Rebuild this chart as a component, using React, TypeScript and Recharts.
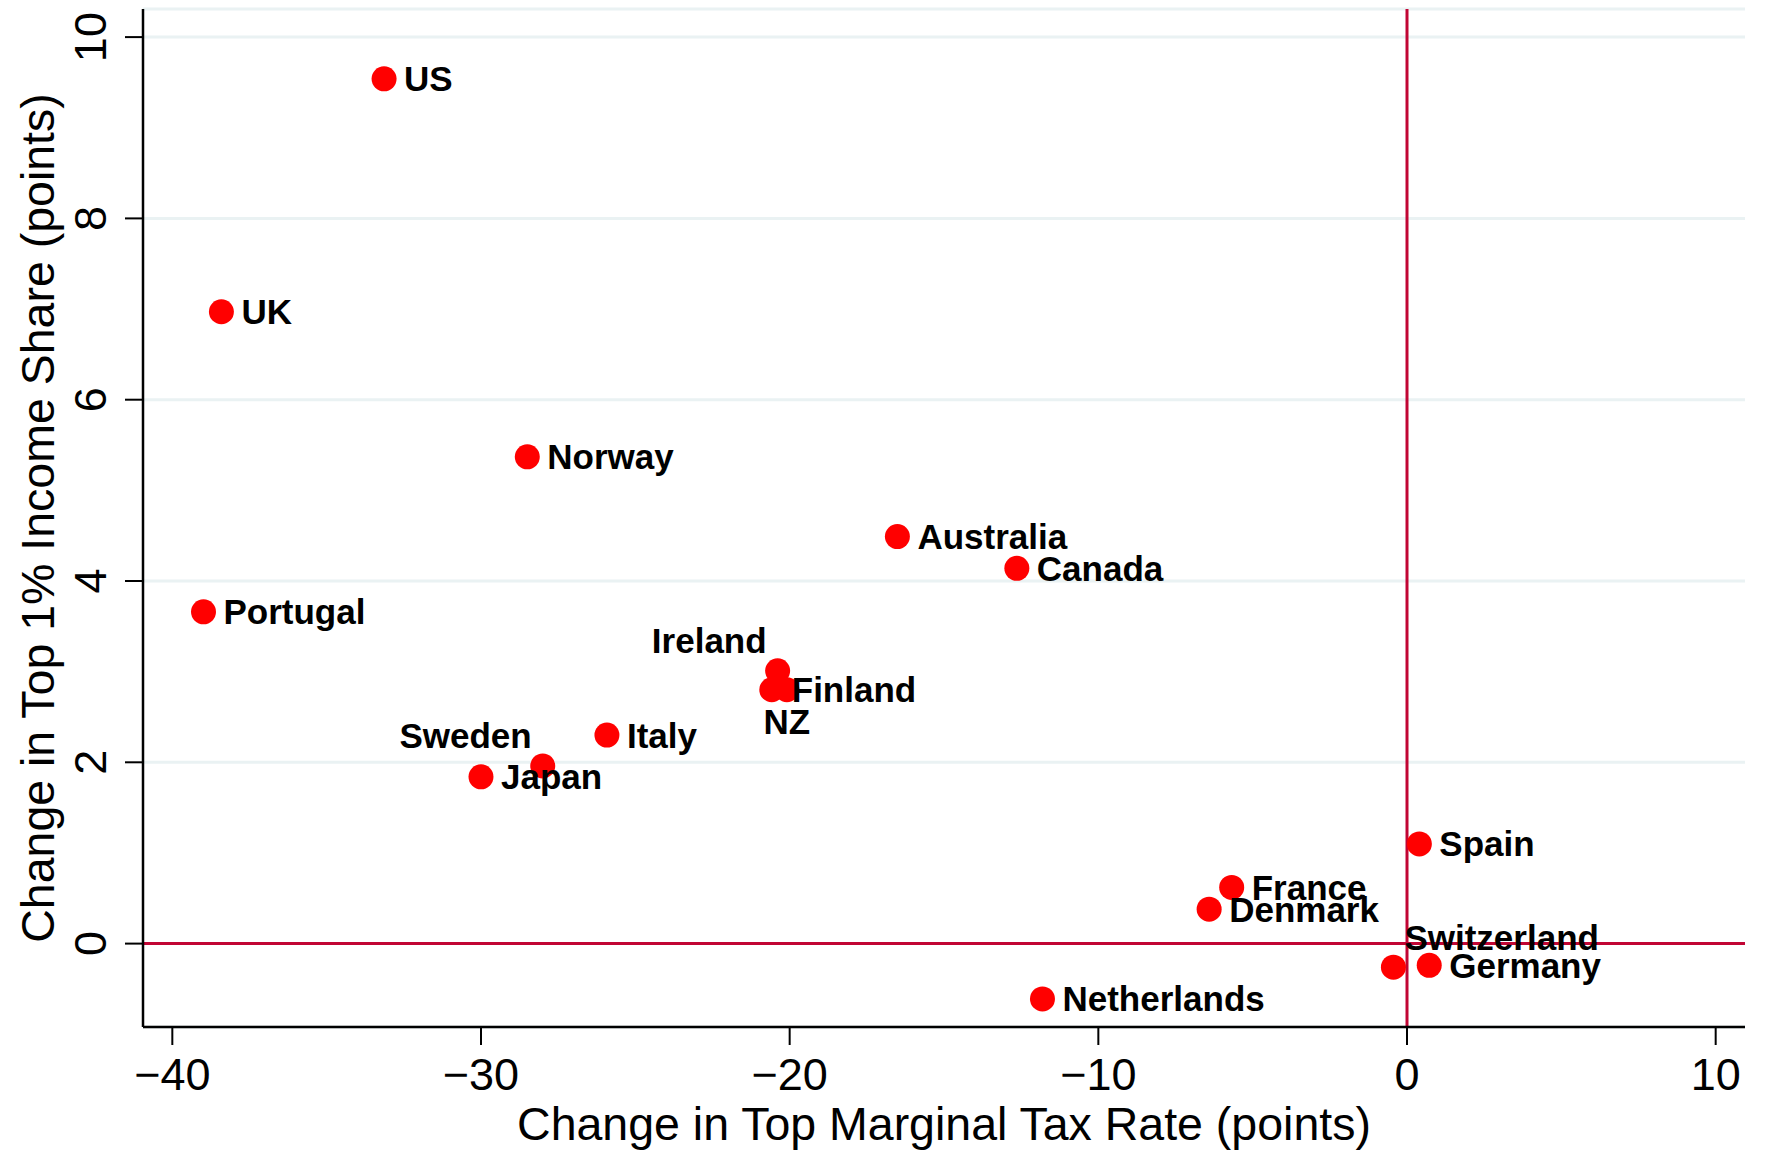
import React from 'react'
import {
  ScatterChart,
  Scatter,
  XAxis,
  YAxis,
  CartesianGrid,
  ReferenceLine,
  Label,
} from 'recharts'

const countries = [
  'US', 'UK', 'Norway', 'Australia', 'Canada', 'Portugal', 'Ireland', 'NZ', 'Finland',
  'Italy', 'Sweden', 'Japan', 'Spain', 'France', 'Denmark', 'Switzerland', 'Germany', 'Netherlands',
]
const taxChange = [
  -33.14, -38.41, -28.5, -16.51, -12.64, -38.99, -20.39, -20.09, -20.58,
  -25.92, -28.0, -30.0, 0.4, -5.68, -6.41, -0.44, 0.72, -11.81,
]
const shareChange = [
  9.54, 6.97, 5.37, 4.49, 4.14, 3.66, 3.01, 2.8, 2.8,
  2.3, 1.96, 1.84, 1.1, 0.62, 0.38, -0.26, -0.24, -0.61,
]
const xTicks = [-40, -30, -20, -10, 0, 10]
const yTicks = [0, 2, 4, 6, 8, 10]

// where the name sits around its marker, stata clock style (3 = right)
const labelPos: Record<string, number> = { Ireland: 11, Sweden: 11, NZ: 6, Switzerland: 1 }

const FONT = '"Liberation Sans", Arial, Helvetica, sans-serif'
const RED = '#ff0000'
const REFLINE = '#c10534'
const GRID = '#eaf2f3'

const data = countries.map((name, i) => ({ name, x: taxChange[i], y: shareChange[i] }))

const fmt = (v: number) => String(v).replace('-', '\u2212')

const Dot = (props: any) => <circle cx={props.cx} cy={props.cy} r={12.5} fill={RED} />

const Name = (props: any) => {
  const { cx, cy, payload } = props
  const pos = labelPos[payload.name] ?? 3
  let x = cx + 20
  let y = cy + 12.5
  let anchor: 'start' | 'middle' | 'end' = 'start'
  if (pos === 11) {
    x = cx - 11
    y = cy - 17.5
    anchor = 'end'
  } else if (pos === 1) {
    x = cx + 11
    y = cy - 17.5
  } else if (pos === 6) {
    x = cx
    y = cy + 44
    anchor = 'middle'
  }
  return (
    <text x={x} y={y} textAnchor={anchor} fontSize={35} fontWeight="bold" fontFamily={FONT} fill="#000">
      {payload.name}
    </text>
  )
}

const YTick = (props: any) => {
  const { x, y, payload } = props
  return (
    <text
      x={x}
      y={y}
      transform={`rotate(-90, ${x}, ${y})`}
      textAnchor="middle"
      fontSize={45}
      fontFamily={FONT}
      fill="#000"
    >
      {fmt(payload.value)}
    </text>
  )
}

const YTitle = (props: any) => {
  const vb = props.viewBox || { x: 0, y: 9, width: 143, height: 1018 }
  const x = vb.x + 38
  const y = vb.y + vb.height / 2
  return (
    <text
      x={x}
      y={y}
      transform={`rotate(-90, ${x}, ${y})`}
      textAnchor="middle"
      dominantBaseline="central"
      fontSize={46.5}
      fontFamily={FONT}
      fill="#000"
    >
      Change in Top 1% Income Share (points)
    </text>
  )
}

const XTitle = (props: any) => {
  const vb = props.viewBox || { x: 143, y: 1027, width: 1602, height: 126 }
  return (
    <text
      x={vb.x + vb.width / 2}
      y={vb.y + 113}
      textAnchor="middle"
      fontSize={46.5}
      fontFamily={FONT}
      fill="#000"
    >
      Change in Top Marginal Tax Rate (points)
    </text>
  )
}

export default function App() {
  return (
    <div style={{ position: 'absolute', left: 0, top: 0, background: '#fff' }}>
      <ScatterChart width={1765} height={1153} margin={{ top: 9, right: 20, bottom: 0, left: 0 }}>
        <CartesianGrid horizontal vertical={false} stroke={GRID} strokeWidth={3} />
        <XAxis
          type="number"
          dataKey="x"
          domain={[-40.95, 10.95]}
          ticks={xTicks}
          allowDataOverflow
          interval={0}
          height={126}
          tickSize={18}
          tickMargin={13}
          axisLine={{ stroke: '#000', strokeWidth: 2.5 }}
          tickLine={{ stroke: '#000', strokeWidth: 2 }}
          tick={{ fill: '#000', fontSize: 45, fontFamily: FONT }}
          tickFormatter={fmt}
        >
          <Label content={XTitle} />
        </XAxis>
        <YAxis
          type="number"
          dataKey="y"
          domain={[-0.92, 10.31]}
          ticks={yTicks}
          allowDataOverflow
          interval={0}
          width={143}
          tickSize={18}
          tickMargin={19}
          axisLine={{ stroke: '#000', strokeWidth: 2.5 }}
          tickLine={{ stroke: '#000', strokeWidth: 2 }}
          tick={YTick}
        >
          <Label content={YTitle} />
        </YAxis>
        <ReferenceLine x={0} stroke={REFLINE} strokeWidth={3} />
        <ReferenceLine y={0} stroke={REFLINE} strokeWidth={3} />
        <Scatter data={data} shape={Dot} isAnimationActive={false} />
        <Scatter data={data} shape={Name} isAnimationActive={false} legendType="none" />
      </ScatterChart>
    </div>
  )
}
